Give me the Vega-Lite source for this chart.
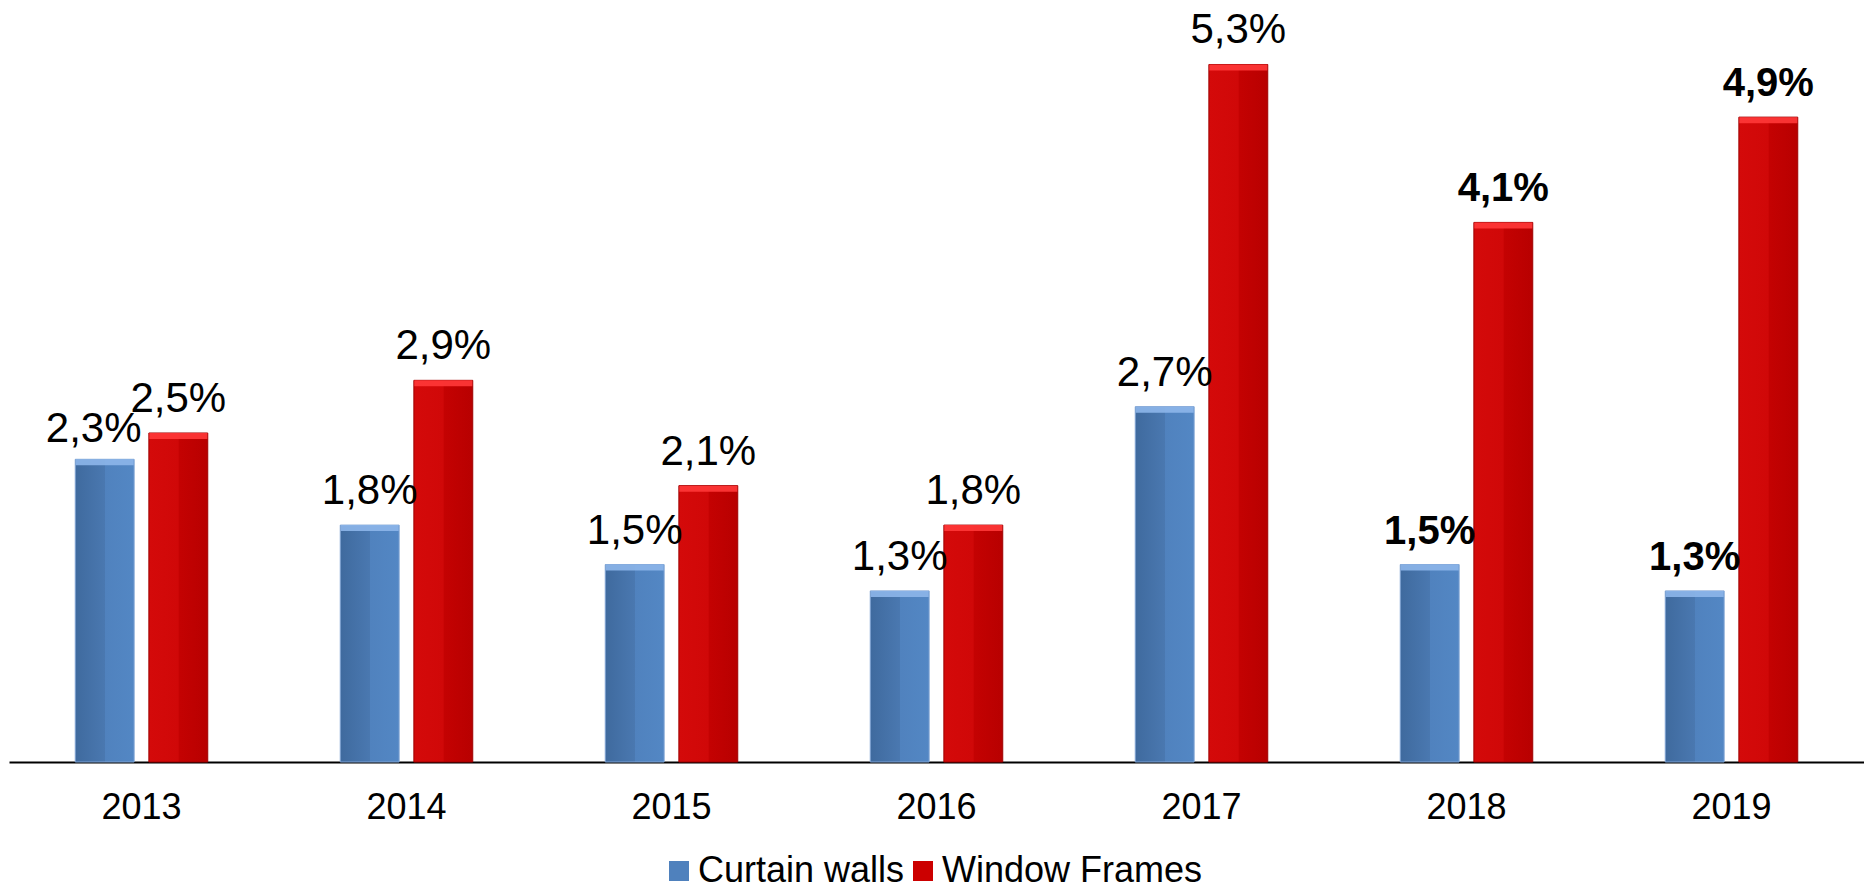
{
  "$schema": "https://vega.github.io/schema/vega-lite/v6.json",
  "width": 1855,
  "height": 762,
  "autosize": {"type": "none"},
  "padding": {"left": 9, "top": 0, "right": 0, "bottom": 129},
  "background": "white",
  "config": {
    "view": {"stroke": null},
    "font": "Liberation Sans",
    "locale": {"number": {"decimal": ",", "thousands": ".", "grouping": [3], "currency": ["", " €"]}}
  },
  "data": {
    "values": [
      {"year": "2013", "series": "Curtain walls", "value": 0.023},
      {"year": "2013", "series": "Window Frames", "value": 0.025},
      {"year": "2014", "series": "Curtain walls", "value": 0.018},
      {"year": "2014", "series": "Window Frames", "value": 0.029},
      {"year": "2015", "series": "Curtain walls", "value": 0.015},
      {"year": "2015", "series": "Window Frames", "value": 0.021},
      {"year": "2016", "series": "Curtain walls", "value": 0.013},
      {"year": "2016", "series": "Window Frames", "value": 0.018},
      {"year": "2017", "series": "Curtain walls", "value": 0.027},
      {"year": "2017", "series": "Window Frames", "value": 0.053},
      {"year": "2018", "series": "Curtain walls", "value": 0.015},
      {"year": "2018", "series": "Window Frames", "value": 0.041},
      {"year": "2019", "series": "Curtain walls", "value": 0.013},
      {"year": "2019", "series": "Window Frames", "value": 0.049}
    ]
  },
  "encoding": {
    "x": {
      "field": "year",
      "type": "nominal",
      "title": null,
      "scale": {"paddingInner": 0.5, "paddingOuter": 0.25},
      "axis": {
        "domain": true,
        "domainColor": "#000000",
        "domainWidth": 2,
        "ticks": false,
        "grid": false,
        "labelAngle": 0,
        "labelFontSize": 36,
        "labelColor": "#000000",
        "labelPadding": 28
      }
    },
    "xOffset": {
      "field": "series",
      "type": "nominal",
      "sort": ["Curtain walls", "Window Frames"],
      "scale": {"paddingInner": 0.2}
    },
    "y": {
      "field": "value",
      "type": "quantitative",
      "scale": {"domain": [0, 0.0579], "nice": false},
      "axis": null
    }
  },
  "layer": [
    {
      "transform": [{"filter": "datum.series == 'Curtain walls'"}],
      "mark": {
        "type": "bar",
        "fill": {
          "gradient": "linear", "x1": 0, "x2": 1, "y1": 0, "y2": 0,
          "stops": [
            {"offset": 0, "color": "#3F6A9E"},
            {"offset": 0.5, "color": "#4A78B0"},
            {"offset": 0.51, "color": "#5082BE"},
            {"offset": 1, "color": "#5387C4"}
          ]
        },
        "stroke": "#7FA3D3",
        "strokeWidth": 1
      },
      "encoding": {
        "color": {
          "field": "series",
          "type": "nominal",
          "scale": {"domain": ["Curtain walls", "Window Frames"], "range": ["#4F81BD", "#CC0000"]},
          "legend": {
            "orient": "none",
            "legendX": 652,
            "legendY": 853,
            "direction": "horizontal",
            "title": null,
            "symbolType": "square",
            "symbolSize": 400,
            "symbolStrokeWidth": 0,
            "labelFontSize": 36,
            "labelColor": "#000000",
            "labelLimit": 600,
            "labelOffset": 1,
            "columnPadding": 0
          }
        }
      }
    },
    {
      "transform": [{"filter": "datum.series == 'Window Frames'"}],
      "mark": {
        "type": "bar",
        "fill": {
          "gradient": "linear", "x1": 0, "x2": 1, "y1": 0, "y2": 0,
          "stops": [
            {"offset": 0, "color": "#D40A0A"},
            {"offset": 0.5, "color": "#D00808"},
            {"offset": 0.51, "color": "#C40202"},
            {"offset": 1, "color": "#B80000"}
          ]
        },
        "stroke": "#9E0000",
        "strokeWidth": 1
      },
      "encoding": {
        "color": {
          "field": "series",
          "type": "nominal",
          "scale": {"domain": ["Curtain walls", "Window Frames"], "range": ["#4F81BD", "#CC0000"]}
        }
      }
    },
    {
      "mark": {"type": "tick", "thickness": 6, "yOffset": 3, "size": 58, "opacity": 0.9},
      "encoding": {
        "color": {
          "condition": {"test": "datum.series == 'Curtain walls'", "value": "#8DB6EA"},
          "value": "#FF3838"
        }
      }
    },
    {
      "transform": [{"filter": "datum.year != '2018' && datum.year != '2019' && !(datum.year == '2013' && datum.series == 'Curtain walls')"}],
      "mark": {"type": "text", "fontSize": 42, "baseline": "alphabetic", "dy": -21, "color": "#000000"},
      "encoding": {
        "text": {"field": "value", "type": "quantitative", "format": ".1%"}
      }
    },
    {
      "transform": [{"filter": "datum.year == '2013' && datum.series == 'Curtain walls'"}],
      "mark": {"type": "text", "fontSize": 42, "baseline": "alphabetic", "dy": -17, "dx": -11, "color": "#000000"},
      "encoding": {
        "text": {"field": "value", "type": "quantitative", "format": ".1%"}
      }
    },
    {
      "transform": [{"filter": "datum.year == '2018' || datum.year == '2019'"}],
      "mark": {"type": "text", "fontSize": 40, "fontWeight": "bold", "baseline": "alphabetic", "dy": -21, "color": "#000000"},
      "encoding": {
        "text": {"field": "value", "type": "quantitative", "format": ".1%"}
      }
    }
  ]
}
